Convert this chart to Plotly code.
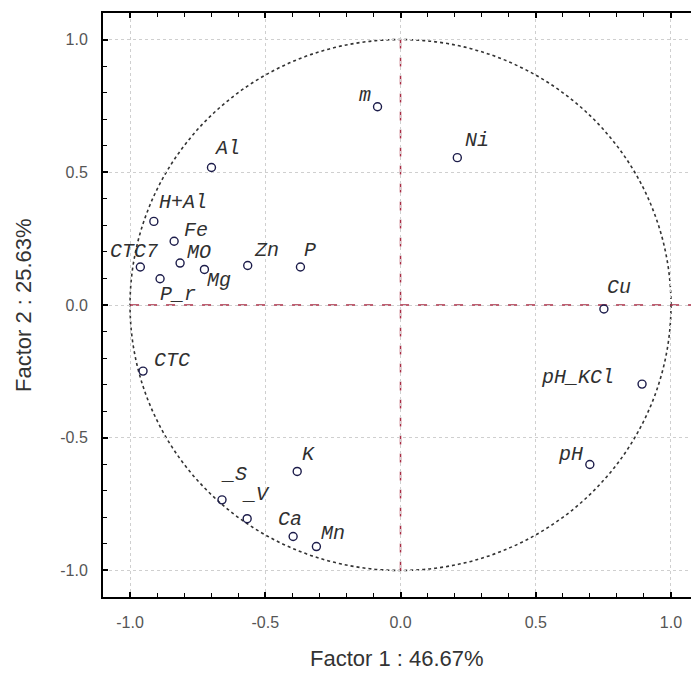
import plotly.graph_objects as go

# Factor loadings of soil variables on the first two principal factors
variables = ["m", "Ni", "Al", "H+Al", "Fe", "CTC7", "MO", "Mg", "P_r", "Zn", "P",
             "CTC", "K", "_S", "_V", "Ca", "Mn", "Cu", "pH_KCl", "pH"]
factor1 = [-0.085, 0.210, -0.699, -0.912, -0.837, -0.962, -0.815, -0.725, -0.889, -0.565, -0.370,
           -0.952, -0.382, -0.660, -0.567, -0.397, -0.311, 0.752, 0.893, 0.700]
factor2 = [0.747, 0.555, 0.518, 0.315, 0.240, 0.143, 0.158, 0.134, 0.099, 0.149, 0.143,
           -0.249, -0.627, -0.734, -0.805, -0.872, -0.910, -0.015, -0.298, -0.601]

# label offsets from each marker, in pixels (right, down)
label_dx = [-13, 20, 16, 29, 22, -6, 19, 15, 18, 19, 10, 29, 11, 12, 9, -3, 17, 15, -65, -19]
label_dy = [-11, -17, -19, -19, -11, -16, -11, 11, 16, -15, -17, -11, -17, -25, -24, -17, -13, -21, -7, -10]

x_title = "Factor 1 : 46.67%"
y_title = "Factor 2 : 25.63%"
tick_vals = [-1.0, -0.5, 0.0, 0.5, 1.0]
tick_text = ["-1.0", "-0.5", "0.0", "0.5", "1.0"]

fig = go.Figure()

fig.add_trace(go.Scatter(
    x=factor1, y=factor2, mode="markers",
    marker=dict(symbol="circle-open", size=8, color="#1c1c4a", line=dict(width=1.4, color="#1c1c4a")),
    showlegend=False, cliponaxis=False, hoverinfo="text", text=variables,
))

label_font = dict(family="Liberation Mono", size=20, color="#303030", style="italic")
for name, fx, fy, dx, dy in zip(variables, factor1, factor2, label_dx, label_dy):
    fig.add_annotation(x=fx, y=fy, xref="x", yref="y", text=name, showarrow=False,
                       xanchor="center", yanchor="middle", xshift=dx, yshift=-dy,
                       font=label_font)

# unit correlation circle
fig.add_shape(type="circle", x0=-1, y0=-1, x1=1, y1=1, xref="x", yref="y",
              line=dict(color="#333333", width=1.6, dash="dot"), layer="below")
# reference axes through the origin
fig.add_shape(type="line", x0=0, x1=0, y0=-1, y1=1, xref="x", yref="y",
              line=dict(color="#a82c44", width=1.5, dash="dash"), layer="below")
fig.add_shape(type="line", x0=-1, x1=1.2, y0=0, y1=0, xref="x", yref="y",
              line=dict(color="#a82c44", width=1.5, dash="dash"), layer="below")

axis_common = dict(
    tickvals=tick_vals, ticktext=tick_text,
    showgrid=True, gridcolor="#cfcfcf", griddash="dot", gridwidth=1,
    zeroline=False, showline=True, linecolor="black", linewidth=2,
    ticks="inside", ticklen=5, tickwidth=1.5, tickcolor="black",
    minor=dict(dtick=0.1, ticks="inside", ticklen=4, tickwidth=1.2, tickcolor="black", showgrid=False),
    tickfont=dict(family="Liberation Sans", size=16, color="#555555"),
    ticklabelstandoff=10,
)

title_font = dict(family="Liberation Sans", size=22, color="#333333")
fig.add_annotation(x=0.5, y=0, xref="paper", yref="paper", text=x_title, showarrow=False,
                   xanchor="center", yanchor="middle", yshift=-61, font=title_font)
fig.add_annotation(x=0, y=0.5, xref="paper", yref="paper", text=y_title, showarrow=False,
                   xanchor="center", yanchor="middle", xshift=-80, textangle=-90, font=title_font)

fig.update_layout(
    width=691, height=673,
    margin=dict(l=103, r=0, t=13, b=76),
    paper_bgcolor="white", plot_bgcolor="white",
    xaxis=dict(range=[-1.1, 1.074], mirror="ticks", **axis_common),
    yaxis=dict(range=[-1.1, 1.1], mirror=False, **axis_common),
)

fig.write_html("out.html")
